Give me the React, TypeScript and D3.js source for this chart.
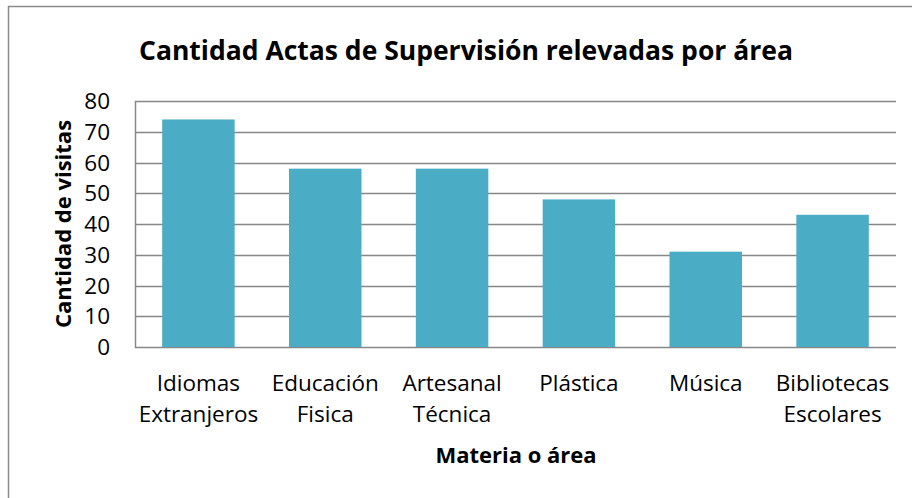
import * as d3 from 'd3'

const categories = [
  ['Idiomas', 'Extranjeros'],
  ['Educación', 'Fisica'],
  ['Artesanal', 'Técnica'],
  ['Plástica'],
  ['Música'],
  ['Bibliotecas', 'Escolares'],
]
const visitas = [74, 58, 58, 48, 31, 43]
const yTicks = [0, 10, 20, 30, 40, 50, 60, 70, 80]

const W = 912
const H = 498
const FONT = "'Open Sans', 'Noto Sans', sans-serif"

export default function App() {
  const plot = { left: 135, right: 896, top: 101, bottom: 347 }

  const x = d3.scaleBand<number>()
    .domain(d3.range(categories.length))
    .range([plot.left, plot.right])
    .paddingInner(0.75 / 1.75)
    .paddingOuter(0.75 / 3.5)

  const y = d3.scaleLinear().domain([0, 80]).range([plot.bottom, plot.top])

  // band center (ignoring bar padding)
  const step = (plot.right - plot.left) / categories.length
  const center = (i: number) => plot.left + step * (i + 0.5)

  return (
    <svg width={W} height={H} style={{ position: 'absolute', left: 0, top: 0, background: '#fff' }} fontFamily={FONT}>
      <rect x={8.5} y={6.5} width={W + 20} height={H + 20} fill="#fff" stroke="#8c8c8c" strokeWidth={1.5} />

      <text x={466} y={60} textAnchor="middle" fontSize={26.5} fontWeight={700} fill="#000">
        Cantidad Actas de Supervisión relevadas por área
      </text>

      {/* gridlines */}
      {yTicks.map(t => (
        <line key={t} x1={plot.left} x2={plot.right} y1={Math.round(y(t)) + 0.5} y2={Math.round(y(t)) + 0.5}
          stroke="#878787" strokeWidth={1.5} />
      ))}
      <line x1={plot.left + 0.5} x2={plot.left + 0.5} y1={plot.top} y2={plot.bottom + 1} stroke="#878787" strokeWidth={1.5} />

      {/* bars */}
      {visitas.map((v, i) => (
        <rect key={i} x={x(i)} y={y(v)} width={x.bandwidth()} height={plot.bottom - y(v)} fill="#4BACC6" />
      ))}

      {/* y tick labels */}
      {yTicks.map(t => (
        <text key={t} x={110} y={y(t)} dy="0.36em" textAnchor="end" fontSize={22.5} fill="#000">{t}</text>
      ))}

      {/* x labels */}
      {categories.map((lines, i) => (
        <text key={i} x={center(i)} y={391} textAnchor="middle" fontSize={22.5} fill="#000">
          {lines.map((l, j) => (
            <tspan key={j} x={center(i)} dy={j === 0 ? 0 : 31}>{l}</tspan>
          ))}
        </text>
      ))}

      <text x={516} y={463} textAnchor="middle" fontSize={22} fontWeight={700} fill="#000">Materia o área</text>
      <text transform={`translate(71,${(plot.top + plot.bottom) / 2}) rotate(-90)`} textAnchor="middle"
        fontSize={22} fontWeight={700} fill="#000">Cantidad de visitas</text>
    </svg>
  )
}
